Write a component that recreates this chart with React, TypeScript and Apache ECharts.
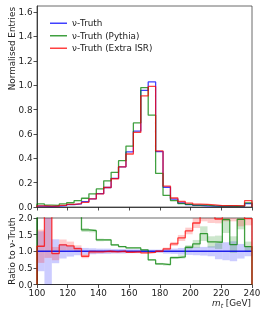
import React, { useEffect, useRef } from 'react';
import * as echarts from 'echarts';

// Binning: 29 bins between 100 and 240 GeV
const X_MIN = 100;
const X_MAX = 240;
const N_BINS = 29;
const xTicks = [100, 120, 140, 160, 180, 200, 220, 240];

// Normalised entries per bin
const truth = [0.008, 0.003, 0.008, 0.012, 0.02, 0.025, 0.044, 0.067, 0.11, 0.16, 0.235, 0.33, 0.453, 0.623, 0.958, 1.027, 0.455, 0.162, 0.065, 0.033, 0.02, 0.013, 0.01, 0.008, 0.006, 0.005, 0.005, 0.004, 0.028];
const truthPythia = [0.025, 0.015, 0.014, 0.025, 0.035, 0.052, 0.072, 0.108, 0.148, 0.215, 0.285, 0.38, 0.5, 0.69, 0.98, 0.754, 0.276, 0.095, 0.053, 0.028, 0.022, 0.016, 0.015, 0.01, 0.008, 0.01, 0.006, 0.008, 0.034];
const truthISR = [0.009, 0.008, 0.007, 0.014, 0.022, 0.027, 0.038, 0.066, 0.108, 0.16, 0.232, 0.33, 0.435, 0.612, 0.912, 0.99, 0.46, 0.172, 0.074, 0.045, 0.032, 0.024, 0.022, 0.017, 0.012, 0.012, 0.011, 0.009, 0.052];

// Ratio to nu-Truth
const ratioPythia = [2.5, 2.4, 2.4, 2.3, 2.3, 2.3, 1.64, 1.62, 1.34, 1.34, 1.19, 1.14, 1.1, 1.1, 1.04, 0.74, 0.62, 0.6, 0.81, 0.83, 1.12, 1.22, 1.53, 1.28, 1.27, 1.95, 1.2, 1.96, 1.14];
const ratioISR = [1.15, 2.6, 0.93, 1.19, 1.16, 1.08, 0.85, 0.98, 0.98, 1.0, 0.98, 1.0, 0.97, 0.98, 0.95, 0.965, 1.0, 1.07, 1.22, 1.4, 1.61, 1.85, 2.25, 2.2, 1.97, 2.25, 2.4, 2.2, 1.98];

// Uncertainty half-widths in the ratio panel
const errTruth = [0.6, 1.0, 0.36, 0.22, 0.16, 0.12, 0.1, 0.09, 0.08, 0.08, 0.07, 0.07, 0.06, 0.06, 0.05, 0.05, 0.05, 0.07, 0.08, 0.1, 0.11, 0.12, 0.13, 0.15, 0.24, 0.27, 0.3, 0.22, 0.15];
const errPythia = [0.4, 0.3, 0.3, 0.2, 0.2, 0.2, 0.06, 0.05, 0.04, 0.03, 0.03, 0.02, 0.02, 0.02, 0.02, 0.02, 0.03, 0.03, 0.04, 0.05, 0.06, 0.12, 0.22, 0.17, 0.2, 0.4, 0.25, 0.3, 0.15];
const errISR = [0.5, 1.8, 0.2, 0.16, 0.13, 0.1, 0.06, 0.05, 0.04, 0.03, 0.03, 0.03, 0.02, 0.02, 0.02, 0.02, 0.03, 0.04, 0.06, 0.09, 0.1, 0.15, 0.35, 0.35, 0.13, 0.35, 0.5, 0.45, 0.2];

const NAME_T = 'ν-Truth';
const NAME_P = 'ν-Truth (Pythia)';
const NAME_I = 'ν-Truth (Extra ISR)';

const BLUE = 'rgba(0,0,255,0.75)';
const GREEN = 'rgba(0,128,0,0.75)';
const RED = 'rgba(255,0,0,0.75)';
const FONT = 'DejaVu Sans';

const edges = Array.from({ length: N_BINS + 1 }, (_, i) => X_MIN + ((X_MAX - X_MIN) * i) / N_BINS);

function stepPoints(vals: number[]) {
  const pts: number[][] = [[edges[0], 0]];
  vals.forEach((v, i) => {
    pts.push([edges[i], v]);
    pts.push([edges[i + 1], v]);
  });
  pts.push([edges[N_BINS], 0]);
  return pts;
}

function bandData(center: number[], err: number[]) {
  return center.map((c, i) => [edges[i], edges[i + 1], c - err[i], c + err[i]]);
}

function bandSeries(data: number[][], color: string, axisIdx: number) {
  return {
    type: 'custom',
    xAxisIndex: axisIdx,
    yAxisIndex: axisIdx,
    silent: true,
    encode: { x: [0, 1], y: [2, 3] },
    data,
    renderItem: (params: any, api: any) => {
      const p0 = api.coord([api.value(0), api.value(3)]);
      const p1 = api.coord([api.value(1), api.value(2)]);
      const cs = params.coordSys;
      const rect = echarts.graphic.clipRectByRect(
        { x: p0[0], y: p0[1], width: p1[0] - p0[0], height: p1[1] - p0[1] },
        { x: cs.x, y: cs.y, width: cs.width, height: cs.height }
      );
      if (!rect) return null;
      return { type: 'rect', shape: rect, style: { fill: color } };
    },
  };
}

function lineSeries(name: string, data: number[][], color: string, axisIdx: number, width = 1.3) {
  return {
    type: 'line',
    name,
    xAxisIndex: axisIdx,
    yAxisIndex: axisIdx,
    data,
    symbol: 'none',
    clip: true,
    lineStyle: { color, width },
    itemStyle: { color },
  };
}

export default function App() {
  const ref = useRef<HTMLDivElement>(null);
  useEffect(() => {
    if (!ref.current) return;
    const chart = echarts.init(ref.current, undefined, { renderer: 'svg' });
    const axisCommon = {
      type: 'value',
      splitLine: { show: false },
      axisLine: { show: true, lineStyle: { color: '#222', width: 0.8 } },
      axisTick: { show: true, inside: false, length: 3.5, lineStyle: { color: '#222', width: 0.8 } },
    };
    const labelStyle = { fontFamily: FONT, fontSize: 8.8, color: '#222' };
    chart.setOption({
      animation: false,
      grid: [
        { left: 37, right: 14, top: 6, height: 201, show: true, borderColor: '#444', borderWidth: 0.8 },
        { left: 37, right: 14, top: 218, height: 66.5, show: true, borderColor: '#444', borderWidth: 0.8 },
      ],
      xAxis: [
        { ...axisCommon, gridIndex: 0, min: X_MIN, max: X_MAX, interval: 20, axisLabel: { show: false } },
        {
          ...axisCommon, gridIndex: 1, min: X_MIN, max: X_MAX, interval: 20,
          axisLabel: { ...labelStyle, margin: 3.5, formatter: (v: number) => (xTicks.includes(v) ? String(v) : '') },
        },
      ],
      yAxis: [
        {
          ...axisCommon, gridIndex: 0, min: 0, max: 1.65, interval: 0.2,
          axisLabel: { ...labelStyle, margin: 4.5, showMaxLabel: false, formatter: (v: number) => v.toFixed(1) },
        },
        {
          ...axisCommon, gridIndex: 1, min: 0, max: 2, interval: 0.5,
          axisLabel: { ...labelStyle, margin: 4.5, formatter: (v: number) => v.toFixed(1) },
        },
      ],
      legend: {
        data: [
          { name: NAME_T, icon: 'rect' },
          { name: NAME_P, icon: 'rect' },
          { name: NAME_I, icon: 'rect' },
        ],
        orient: 'vertical',
        left: 45,
        top: 12,
        itemWidth: 17,
        itemHeight: 1.5,
        itemGap: 0,
        textStyle: { ...labelStyle, lineHeight: 12.5 },
      },
      graphic: [
        {
          type: 'text', x: 12, y: 7, rotation: Math.PI / 2,
          style: { text: 'Normalised Entries', font: `8.8px "${FONT}"`, fill: '#222', textAlign: 'right', textVerticalAlign: 'middle' },
        },
        {
          type: 'text', x: 12, y: 251, rotation: Math.PI / 2,
          style: { text: 'Ratio to ν-Truth', font: `8.8px "${FONT}"`, fill: '#222', textAlign: 'center', textVerticalAlign: 'middle' },
        },
        {
          type: 'text', x: 251, y: 303,
          style: {
            text: '{i|m}{s|t}{n| [GeV]}',
            textAlign: 'right', textVerticalAlign: 'middle', fill: '#222',
            rich: {
              i: { fontFamily: FONT, fontSize: 8.8, fontStyle: 'italic', fill: '#222', lineHeight: 11 },
              s: { fontFamily: FONT, fontSize: 6.2, fontStyle: 'italic', fill: '#222', verticalAlign: 'bottom', lineHeight: 11, padding: [3, 0, 0, 0] },
              n: { fontFamily: FONT, fontSize: 8.8, fill: '#222', lineHeight: 11 },
            },
          },
        },
      ],
      series: [
        lineSeries(NAME_T, stepPoints(truth), BLUE, 0),
        lineSeries(NAME_P, stepPoints(truthPythia), GREEN, 0),
        lineSeries(NAME_I, stepPoints(truthISR), RED, 0),
        bandSeries(bandData(truth.map(() => 1), errTruth), 'rgba(0,0,255,0.2)', 1),
        bandSeries(bandData(ratioPythia, errPythia), 'rgba(0,128,0,0.2)', 1),
        bandSeries(bandData(ratioISR, errISR), 'rgba(255,0,0,0.2)', 1),
        lineSeries('ratio-truth', [[X_MIN, 1], [X_MAX, 1]], 'rgba(0,0,230,0.85)', 1, 1.3),
        lineSeries('ratio-pythia', stepPoints(ratioPythia), GREEN, 1),
        lineSeries('ratio-isr', stepPoints(ratioISR), RED, 1),
      ],
    });
    return () => chart.dispose();
  }, []);
  return <div ref={ref} style={{ position: 'fixed', left: 0, top: 0, width: 266, height: 319 }} />;
}
